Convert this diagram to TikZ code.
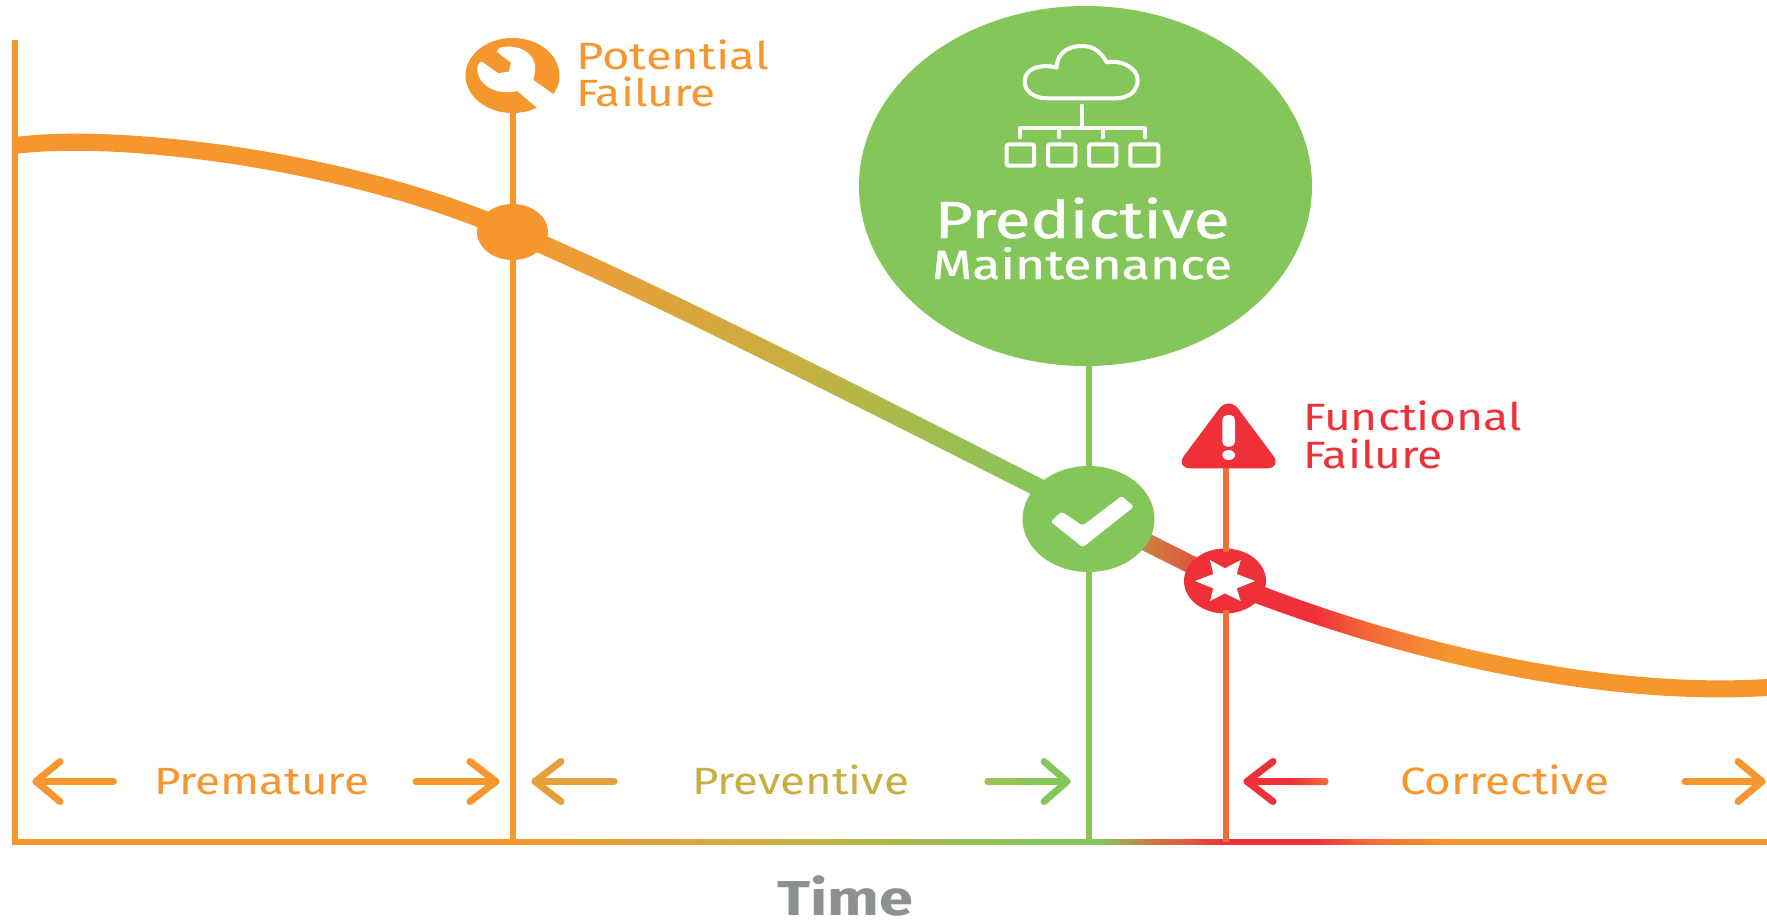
\documentclass[tikz,border=0pt]{standalone}
\usepackage{graphicx}
\usepackage{fontspec}
\setmainfont{Fira Sans}
\newfontfamily\medfont[FakeBold=0.8]{Fira Sans}
\usetikzlibrary{shapes.geometric}
\definecolor{cO}{HTML}{F6962F}
\definecolor{cA}{HTML}{E5A03A}
\definecolor{cB}{HTML}{C8AF42}
\definecolor{cG}{HTML}{85C65B}
\definecolor{cV}{HTML}{A0C252}
\definecolor{cT}{HTML}{D0763F}
\definecolor{cU}{HTML}{DD5A3D}
\definecolor{cR}{HTML}{EE3138}
\definecolor{cF}{HTML}{F26B38}
\definecolor{cK}{HTML}{8E9192}
\pgfdeclarehorizontalshading{tline}{100bp}{color(0bp)=(cO); color(39.18bp)=(cO); color(42.27bp)=(cA); color(47.12bp)=(cB); color(54.25bp)=(cG); color(55.96bp)=(cG); color(57.54bp)=(cT); color(58.53bp)=(cU); color(59.53bp)=(cR); color(62.1bp)=(cR); color(63.67bp)=(cF); color(65.96bp)=(cO); color(100bp)=(cO)}
\newcommand{\fitw}[2]{\resizebox{#1pt}{\height}{#2}}
\tikzset{
  x=1pt,y=-1pt,
  lbl/.style={anchor=base west,inner sep=0pt,outer sep=0pt,font=\fontsize{38}{38}\selectfont},
  blob/.style={ellipse,inner sep=0pt,outer sep=0pt,minimum width=#1},
  vline/.style={line width=6pt},
  arr/.style={line width=7pt,line cap=round,line join=round},
  iconline/.style={draw=white,line width=4pt,line cap=round,line join=round,rounded corners=2pt}
}
\newcommand{\arw}[5]{% name colour tail tip back
  \coordinate (#1t) at (#3,781.5); \coordinate (#1h) at (#4,781.5);
  \coordinate (#1u) at (#5,761.5); \coordinate (#1d) at (#5,801.5);
  \draw[arr,#2] (#1t) -- (#1h);
  \draw[arr,#2] (#1u) -- (#1h) -- (#1d);
}
\begin{document}
\begin{tikzpicture}
\useasboundingbox (0,0) rectangle (1767,919);
% degradation curve and time axis
\shade[shading=tline] (15,137) .. controls (120,123.5) and (350,151) .. (512,221.5) .. controls (680,290.5) and (1050,484.5) .. (1224,571) .. controls (1400,643) and (1600,689) .. (1767,679) -- (1767,696) .. controls (1600,706) and (1400,661) .. (1224,591) .. controls (1050,505.5) and (680,312.5) .. (512,241.5) .. controls (350,169) and (120,140.5) .. (15,154) -- cycle;
\shade[shading=tline] (12,839.5) rectangle (1767,844.5);
\coordinate (ytop) at (15,40); \coordinate (ybot) at (15,844.5);
\draw[vline,cO] (ytop) -- (ybot);
% nodes
\node[blob=94pt,minimum height=75pt,fill=cO] (wrench) at (512.5,75.5) {};
\node[blob=71pt,minimum height=56pt,fill=cO] (pf) at (512.5,232) {};
\node[blob=453pt,minimum height=360pt,fill=cG] (pm) at (1085.5,186) {};
\node[blob=132pt,minimum height=106pt,fill=cG] (chk) at (1088.5,519) {};
\node[blob=82pt,minimum height=65pt,fill=cR] (ff) at (1225,581) {};
\coordinate (f1) at (512.5,842); \coordinate (f2) at (1088.5,842); \coordinate (f3) at (1226,842);
\coordinate (pmb) at (1088.5,360); \coordinate (tri) at (1226,466);
\coordinate (ffn) at (1226,552); \coordinate (ffs) at (1226,610);
\draw[vline,cO] (wrench) -- (pf);
\draw[vline,cO] (pf) -- (f1);
\draw[vline,cG] (pmb) -- (chk);
\draw[vline,cG] (chk) -- (f2);
\draw[vline,cF] (tri) -- (ffn);
\draw[vline,cF] (ffs) -- (f3);
% wrench
\begin{scope}[shift={(440,20)},scale=1/3]
\fill[white] (310,280) -- (232,213) .. controls (170,228) and (108,195) .. (112,140) -- (118,128) -- (126,125) -- (175,160) -- (207,155) -- (213,128) -- (170,95) -- (178,84) .. controls (235,68) and (292,100) .. (285,155) -- (280,180) -- (365,240) -- cycle;
\end{scope}
% cloud network
\begin{scope}[shift={(950,20)},scale=1/3]
\draw[draw=white,line width=4pt,line join=round] (290,235) -- (495,235) .. controls (540,235) and (563,210) .. (563,180) .. controls (563,145) and (515,118) .. (470,127) .. controls (450,90) and (425,78) .. (395,78) .. controls (360,78) and (320,95) .. (320,143) .. controls (270,130) and (224,145) .. (224,185) .. controls (224,215) and (255,235) .. (290,235) -- cycle;
\draw[white,line width=4pt,line cap=round] (397,257) -- (397,322);
\draw[white,line width=4pt,line cap=round,line join=round] (210,352) -- (210,325) -- (585,325) -- (585,352);
\draw[white,line width=4pt,line cap=round] (327,325) -- (327,352);
\draw[white,line width=4pt,line cap=round] (458,325) -- (458,352);
\draw[iconline] (170,373) rectangle (252,437);
\draw[iconline] (294,373) rectangle (376,437);
\draw[iconline] (417,373) rectangle (499,437);
\draw[iconline] (541,373) rectangle (625,437);
\end{scope}
% check, star, warning
\begin{scope}[shift={(1000,380)},scale=1/3]
\fill[white,rounded corners=2.5pt] (152,425) -- (185,395) -- (248,437) -- (365,348) -- (402,380) -- (248,502) -- cycle;
\fill[white] (585,603) -- (640,582) -- (630,540) -- (675,565) -- (722,540) -- (710,582) -- (765,603) -- (710,625) -- (722,663) -- (675,640) -- (630,663) -- (640,625) -- cycle;
\fill[cR,rounded corners=16pt] (524,265) -- (686,48) -- (848,265) -- cycle;
\fill[white,rounded corners=5pt] (667,105) rectangle (705,200);
\fill[white] (686,225) ellipse [x radius=19,y radius=15];
\end{scope}
% labels
\node[lbl,cO] (t1) at (576,69) {\fitw{193}{Potential}};
\node[lbl,cO] (t2) at (576,106.5) {\fitw{140}{Failure}};
\node[lbl,cR] (t3) at (1303,430.5) {\fitw{219}{Functional}};
\node[lbl,cR] (t4) at (1303,468) {\fitw{140}{Failure}};
\node[lbl,white,font=\fontsize{52}{52}\medfont] (t5) at (934.5,238) {\fitw{295}{Predictive}};
\node[lbl,white,font=\fontsize{41}{41}\medfont] (t6) at (932,279) {\fitw{300}{Maintenance}};
\node[lbl,cO] (t7) at (154,794.5) {\fitw{215}{Premature}};
\node[lbl,cB] (t8) at (692,794.5) {\fitw{217}{Preventive}};
\node[lbl,cO] (t9) at (1400,794.5) {\fitw{209}{Corrective}};
\node[lbl,cK,font=\fontsize{49}{49}\selectfont\bfseries] (t10) at (777,915) {\fitw{136}{Time}};
% arrows
\arw{a}{cO}{113.5}{36}{60}
\arw{b}{cO}{416}{496}{470}
\arw{c}{cA}{614}{535}{561}
\arw{d}{cG}{988}{1067}{1044}
\arw{e}{cR}{1325}{1247}{1273}
\arw{f}{cO}{1685}{1762}{1738}
\shade[left color=cV,right color=cG,rounded corners=3pt] (984.5,778) rectangle (1040,785);
\shade[left color=cR,right color=cF,rounded corners=3pt] (1290,778) rectangle (1328.5,785);
\end{tikzpicture}
\end{document}
